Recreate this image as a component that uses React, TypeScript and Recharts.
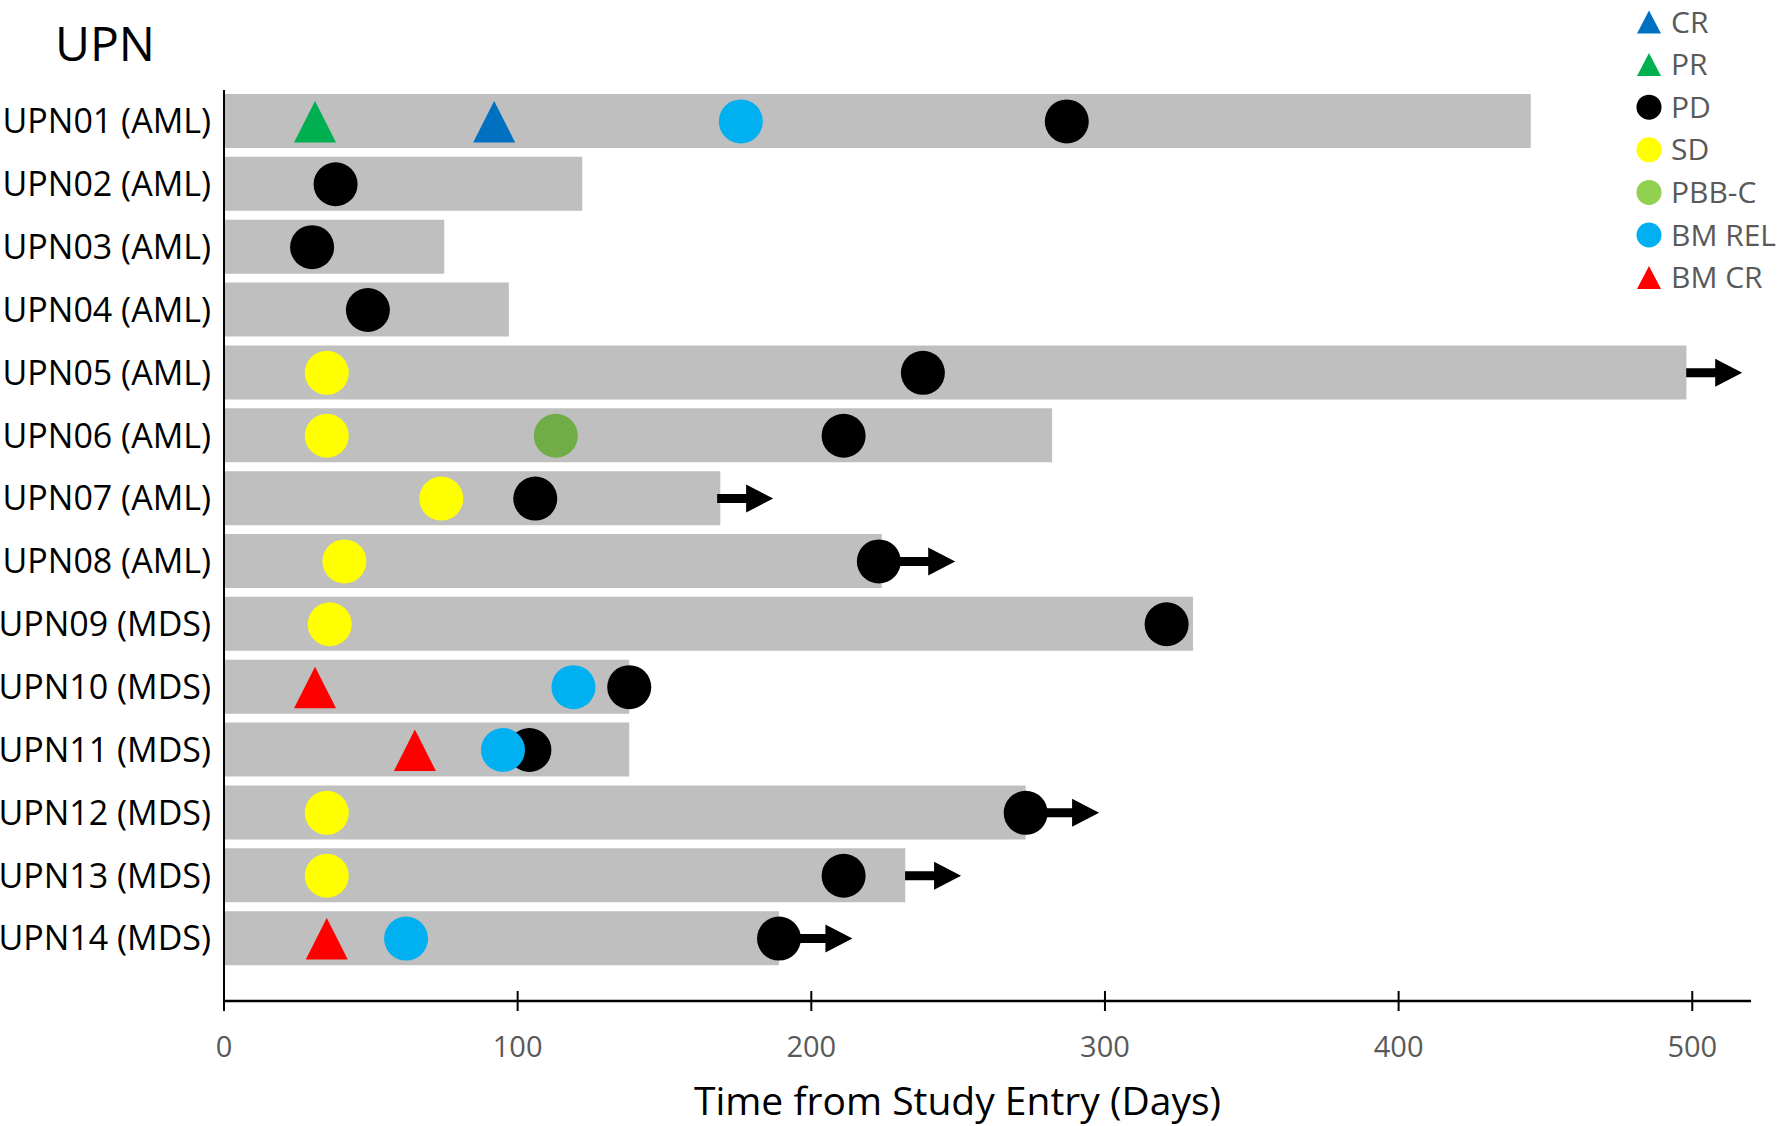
import React from 'react'
import { ComposedChart, Bar, Scatter, XAxis, YAxis, Legend } from 'recharts'

// patients, in display order (top to bottom)
const PATIENTS = [
  'UPN01 (AML)', 'UPN02 (AML)', 'UPN03 (AML)', 'UPN04 (AML)', 'UPN05 (AML)',
  'UPN06 (AML)', 'UPN07 (AML)', 'UPN08 (AML)', 'UPN09 (MDS)', 'UPN10 (MDS)',
  'UPN11 (MDS)', 'UPN12 (MDS)', 'UPN13 (MDS)', 'UPN14 (MDS)',
]

// days on study (grey bar length)
const STUDY_END = [445, 122, 75, 97, 498, 282, 169, 224, 330, 138, 138, 273, 232, 189]

// response events, day of assessment (null = none)
const CR = [92, null, null, null, null, null, null, null, null, null, null, null, null, null]
const PR = [31, null, null, null, null, null, null, null, null, null, null, null, null, null]
const PD = [287, 38, 30, 49, 238, 211, 106, 223, 321, 138, 104, 273, 211, 189]
const SD = [null, null, null, null, 35, 35, 74, 41, 36, null, null, 35, 35, null]
const PBB_C = [null, null, null, null, null, 113, null, null, null, null, null, null, null, null]
const BM_REL = [176, null, null, null, null, null, null, null, null, 119, 95, null, null, 62]
const BM_CR = [null, null, null, null, null, null, null, null, null, 31, 65, null, null, 35]

// ongoing: tip of arrow (days)
const ONGOING = [null, null, null, null, 517, null, 187, 249, null, null, null, 298, 251, 214]

const X_TICKS = [0, 100, 200, 300, 400, 500]

const LEGEND = [
  { label: 'CR', color: '#0070C0', kind: 'triangle' },
  { label: 'PR', color: '#00B050', kind: 'triangle' },
  { label: 'PD', color: '#000000', kind: 'circle' },
  { label: 'SD', color: '#FFFF00', kind: 'circle' },
  { label: 'PBB-C', color: '#92D050', kind: 'circle' },
  { label: 'BM REL', color: '#00B0F0', kind: 'circle' },
  { label: 'BM CR', color: '#FF0000', kind: 'triangle' },
]

const FONT = '"Open Sans", sans-serif'

const data = PATIENTS.map((name, i) => ({
  name,
  end: STUDY_END[i],
  cr: CR[i],
  pr: PR[i],
  pd: PD[i],
  sd: SD[i],
  pbbc: PBB_C[i],
  bmrel: BM_REL[i],
  bmcr: BM_CR[i],
  ongoing: ONGOING[i],
}))

const ok = (v: any) => typeof v === 'number' && isFinite(v)

function circleShape(fill: string) {
  return (props: any) => {
    const { cx, cy } = props
    if (!ok(cx) || !ok(cy)) return <g />
    return <circle cx={cx} cy={cy} r={22} fill={fill} />
  }
}

function triangleShape(fill: string) {
  return (props: any) => {
    const { cx, cy } = props
    if (!ok(cx) || !ok(cy)) return <g />
    const pts = `${cx},${cy - 20.5} ${cx + 21},${cy + 21} ${cx - 21},${cy + 21}`
    return <polygon points={pts} fill={fill} />
  }
}

function arrowShape(props: any) {
  const { cx, cy } = props
  if (!ok(cx) || !ok(cy)) return <g />
  const tail = cx - 56
  const neck = cx - 27
  const d = `M${tail},${cy - 4.5} L${neck},${cy - 4.5} L${neck},${cy - 14} L${cx},${cy} ` +
    `L${neck},${cy + 14} L${neck},${cy + 4.5} L${tail},${cy + 4.5} Z`
  return <path d={d} fill="#000" />
}

function XTick(props: any) {
  const { x, y, payload } = props
  return (
    <g>
      <line x1={x} x2={x} y1={y - 10} y2={y + 10} stroke="#000" strokeWidth={2} />
      <text x={x} y={y + 46} dy="0.35em" textAnchor="middle" fill="#595959"
        fontSize={29} fontFamily={FONT}>
        {payload.value}
      </text>
    </g>
  )
}

function YTick(props: any) {
  const { x, y, payload } = props
  return (
    <text x={x} y={y} dy="0.35em" textAnchor="end" fill="#000" fontSize={34} fontFamily={FONT}>
      {payload.value}
    </text>
  )
}

function XTitle(props: any) {
  const vb = props.viewBox || { x: 224, y: 1001, width: 1527 }
  return (
    <text x={vb.x + vb.width / 2 - 30} y={vb.y + 114} textAnchor="middle" fill="#000"
      fontSize={39} fontFamily={FONT}>
      Time from Study Entry (Days)
    </text>
  )
}

function LegendBox() {
  return (
    <svg width={171} height={300} style={{ overflow: 'visible', display: 'block' }}>
      {LEGEND.map((item, i) => {
        const cy = 22 + i * 42.6
        const cx = 29
        return (
          <g key={item.label}>
            {item.kind === 'circle'
              ? <circle cx={cx} cy={cy} r={12.5} fill={item.color} />
              : <polygon points={`${cx},${cy - 11.5} ${cx + 12},${cy + 11.5} ${cx - 12},${cy + 11.5}`}
                  fill={item.color} />}
            <text x={51} y={cy} dy="0.35em" fill="#595959" fontSize={30} fontFamily={FONT}>
              {item.label}
            </text>
          </g>
        )
      })}
    </svg>
  )
}

export default function App() {
  return (
    <div style={{ position: 'relative', width: 1791, height: 1126, fontFamily: FONT, background: '#fff' }}>
      <style>{'body{margin:0;overflow:hidden;}'}</style>
      <svg width={300} height={90} style={{ position: 'absolute', left: 0, top: 0, zIndex: 2 }}>
        <text x={55} y={61} fontSize={48} fill="#000" fontFamily={FONT}>UPN</text>
      </svg>
      <ComposedChart
        width={1791}
        height={1126}
        data={data}
        layout="vertical"
        margin={{ top: 90, right: 40, bottom: 0, left: 0 }}
      >
        <XAxis
          type="number"
          domain={[0, 520]}
          ticks={X_TICKS}
          allowDataOverflow
          height={125}
          tickLine={false}
          tickSize={0}
          tickMargin={0}
          axisLine={{ stroke: '#000', strokeWidth: 2.5 }}
          tick={<XTick />}
          label={{ content: <XTitle /> }}
        />
        <YAxis
          type="category"
          dataKey="name"
          width={224}
          padding={{ top: 0, bottom: 31 }}
          tickLine={false}
          tickSize={0}
          tickMargin={13}
          interval={0}
          axisLine={{ stroke: '#000', strokeWidth: 2 }}
          tick={<YTick />}
        />
        <Legend
          layout="vertical"
          align="center"
          verticalAlign="middle"
          wrapperStyle={{ top: 0, left: 1620, width: 171, height: 300 }}
          content={() => <LegendBox />}
        />
        <Bar dataKey="end" fill="#BFBFBF" barSize={54} isAnimationActive={false} />
        <Scatter dataKey="ongoing" shape={arrowShape} isAnimationActive={false} />
        <Scatter dataKey="sd" shape={circleShape('#FFFF00')} isAnimationActive={false} />
        <Scatter dataKey="pbbc" shape={circleShape('#70AD47')} isAnimationActive={false} />
        <Scatter dataKey="pd" shape={circleShape('#000000')} isAnimationActive={false} />
        <Scatter dataKey="bmrel" shape={circleShape('#00B0F0')} isAnimationActive={false} />
        <Scatter dataKey="cr" shape={triangleShape('#0070C0')} isAnimationActive={false} />
        <Scatter dataKey="pr" shape={triangleShape('#00B050')} isAnimationActive={false} />
        <Scatter dataKey="bmcr" shape={triangleShape('#FF0000')} isAnimationActive={false} />
      </ComposedChart>
    </div>
  )
}
